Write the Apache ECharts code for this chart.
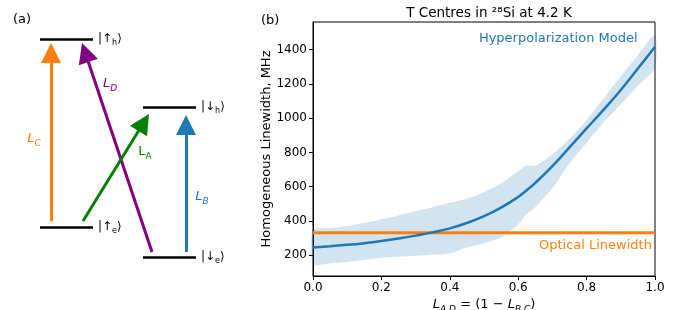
<!DOCTYPE html>
<html>
<head>
<meta charset="utf-8">
<script src="https://cdn.jsdelivr.net/npm/echarts@6/dist/echarts.min.js"></script>
<style>
  html, body { margin: 0; padding: 0; background: #fff; }
  #container { width: 680px; height: 310px; }
</style>
</head>
<body>
<div id="container"></div>
<script type="text/javascript">
// panel (b) data
var fracs = [0, 0.05, 0.1, 0.15, 0.2, 0.25, 0.3, 0.35, 0.4, 0.45, 0.5, 0.55, 0.6, 0.625, 0.65, 0.7, 0.75, 0.8, 0.85, 0.9, 0.95, 1.0];
var meanVals = [245, 252, 260, 270, 282, 297, 314, 333, 356, 388, 428, 478, 540, 579, 622, 720, 830, 940, 1050, 1165, 1290, 1418];
var lowerVals = [146, 152, 160, 172, 184, 190, 196, 202, 210, 245, 270, 305, 380, 440, 480, 590, 735, 857, 975, 1080, 1190, 1295];
var upperVals = [346, 356, 370, 388, 410, 432, 457, 480, 506, 530, 568, 618, 690, 725, 722, 790, 880, 990, 1115, 1245, 1368, 1487];
var opticalLinewidth = 330;
var yTicks = [200, 400, 600, 800, 1000, 1200, 1400];

// panel (a): energy level diagram (schematic units)
var levels = [
    { x0: 40, x1: 93, y: 39, sym: '↑', sub: 'h' },
    { x0: 143, x1: 196, y: 107, sym: '↓', sub: 'h' },
    { x0: 40, x1: 93, y: 227, sym: '↑', sub: 'e' },
    { x0: 143, x1: 196, y: 257, sym: '↓', sub: 'e' }
];
var arrows = [
    { name: 'C', from: [51, 221], to: [51, 43], color: '#ff7f0e', label: [34, 139], italic: true },
    { name: 'D', from: [152, 252], to: [82, 43], color: '#800080', label: [110, 84], italic: true },
    { name: 'A', from: [83, 221], to: [149, 114], color: '#008000', label: [145, 152], italic: false },
    { name: 'B', from: [186, 252], to: [186, 115], color: '#1f77b4', label: [202, 197], italic: true }
];
var headLen = 20;

var FONT = 'DejaVu Sans';

var dom = document.getElementById('container');
var myChart = echarts.init(dom, null, { renderer: 'canvas' });

var bandData = [], meanData = [];
for (let i = 0; i < fracs.length; i++) {
    bandData.push([fracs[i], lowerVals[i], upperVals[i]]);
    meanData.push([fracs[i], meanVals[i]]);
}

var levelLines = levels.map(function (l) {
    return { coords: [[l.x0, l.y], [l.x1, l.y]] };
});
var ketPoints = levels.map(function (l) {
    return {
        value: [l.x1, l.y],
        label: { formatter: '{n||' + l.sym + '}{s|' + l.sub + '}{n|\u27e9}' }
    };
});
// the head symbol is centred on the line end, so stop the line half a head short of the tip
function headCentre(a) {
    var dx = a.to[0] - a.from[0], dy = a.to[1] - a.from[1];
    var len = Math.sqrt(dx * dx + dy * dy);
    return [a.to[0] - dx / len * headLen / 2, a.to[1] - dy / len * headLen / 2];
}
var arrowSeries = arrows.map(function (a) {
    return {
        type: 'lines',
        coordinateSystem: 'cartesian2d',
        xAxisIndex: 0,
        yAxisIndex: 0,
        symbol: ['none', 'triangle'],
        symbolSize: [19, headLen],
        lineStyle: { color: a.color, width: 3, opacity: 1 },
        data: [{ coords: [a.from, headCentre(a)] }],
        silent: true
    };
});
var arrowLabels = arrows.map(function (a) {
    var st = a.italic ? 'italic' : 'normal';
    return {
        value: a.label,
        label: {
            formatter: '{l|L}{s|' + a.name + '}',
            rich: {
                l: { fontFamily: FONT, fontSize: 13, fontStyle: st, color: a.color, lineHeight: 18 },
                s: { fontFamily: FONT, fontSize: 9, fontStyle: st, color: a.color, lineHeight: 9, verticalAlign: 'bottom' }
            }
        }
    };
});

var option = {
    animation: false,
    textStyle: { fontFamily: FONT },
    title: [
        { text: '(a)', left: 8, top: 8, textStyle: { fontFamily: FONT, fontSize: 13, fontWeight: 'normal', color: '#000' } },
        { text: '(b)', left: 256, top: 9, textStyle: { fontFamily: FONT, fontSize: 13, fontWeight: 'normal', color: '#000' } },
        { text: 'T Centres in \u00b2\u2078Si at 4.2 K', left: 484, textAlign: 'center', top: 1, textStyle: { fontFamily: FONT, fontSize: 13.5, fontWeight: 'normal', color: '#000' } }
    ],
    grid: [
        { left: 0, top: 0, width: 240, height: 310, show: false, outerBoundsMode: 'none' },
        { left: 313, top: 22, width: 342, height: 254, show: true, borderColor: '#000', borderWidth: 1, backgroundColor: 'transparent', outerBoundsMode: 'none' }
    ],
    xAxis: [
        { gridIndex: 0, type: 'value', min: 0, max: 240, show: false },
        {
            gridIndex: 1, type: 'value', min: 0, max: 1, interval: 0.2,
            name: '{i|L}{si|A,D}{n| = (1 \u2212 }{i|L}{si|B,C}{n|)}',
            nameLocation: 'middle', nameGap: 20, nameMoveOverlap: false,
            nameTextStyle: {
                rich: {
                    i: { fontFamily: FONT, fontSize: 13, fontStyle: 'italic', color: '#000', lineHeight: 18 },
                    si: { fontFamily: FONT, fontSize: 9, fontStyle: 'italic', color: '#000', lineHeight: 9, verticalAlign: 'bottom' },
                    n: { fontFamily: FONT, fontSize: 13, color: '#000', lineHeight: 18 }
                }
            },
            axisLine: { show: true, lineStyle: { color: '#000', width: 1 } },
            axisTick: { show: true, length: 4, lineStyle: { color: '#000' } },
            axisLabel: { color: '#000', fontSize: 12, margin: 6, formatter: function (v) { return v.toFixed(1); } },
            splitLine: { show: false }
        }
    ],
    yAxis: [
        { gridIndex: 0, type: 'value', min: 0, max: 310, inverse: true, show: false },
        {
            gridIndex: 1, type: 'value', min: 78, max: 1562,
            name: 'Homogeneous Linewidth, MHz',
            nameLocation: 'middle', nameGap: 40, nameMoveOverlap: false,
            nameTextStyle: { fontFamily: FONT, fontSize: 13, color: '#000' },
            axisLine: { show: true, lineStyle: { color: '#000', width: 1 } },
            axisTick: { show: true, length: 4, lineStyle: { color: '#000' }, customValues: yTicks },
            axisLabel: { color: '#000', fontSize: 12, margin: 6, customValues: yTicks, formatter: function (v) { return String(v); } },
            splitLine: { show: false }
        }
    ],
    series: [
        {
            type: 'lines',
            coordinateSystem: 'cartesian2d',
            xAxisIndex: 0, yAxisIndex: 0,
            lineStyle: { color: '#000', width: 2.5, opacity: 1 },
            data: levelLines,
            silent: true
        }
    ].concat(arrowSeries).concat([
        {
            type: 'scatter',
            xAxisIndex: 0, yAxisIndex: 0,
            symbolSize: 0,
            itemStyle: { opacity: 1 },
            data: ketPoints,
            label: {
                show: true, position: 'right', distance: 5,
                rich: {
                    n: { fontFamily: FONT, fontSize: 12, color: '#000', lineHeight: 16 },
                    s: { fontFamily: FONT, fontSize: 8, color: '#000', lineHeight: 8, verticalAlign: 'bottom' }
                }
            },
            silent: true
        },
        {
            type: 'scatter',
            xAxisIndex: 0, yAxisIndex: 0,
            symbolSize: 0,
            itemStyle: { opacity: 1 },
            data: arrowLabels,
            label: { show: true, position: 'inside' },
            silent: true
        },
        {
            name: 'band',
            type: 'custom',
            xAxisIndex: 1, yAxisIndex: 1,
            encode: { x: 0, y: [1, 2] },
            data: bandData,
            silent: true,
            renderItem: function (params, api) {
                if (params.dataIndexInside !== 0) return;
                var n = params.dataInsideLength;
                var pts = [];
                for (let i = 0; i < n; i++) pts.push(api.coord([api.value(0, i), api.value(2, i)]));
                for (let i = n - 1; i >= 0; i--) pts.push(api.coord([api.value(0, i), api.value(1, i)]));
                return {
                    type: 'polygon',
                    shape: { points: pts, smooth: 0.25 },
                    style: { fill: 'rgba(31,119,180,0.2)' }
                };
            }
        },
        {
            name: 'Optical Linewidth',
            type: 'line',
            xAxisIndex: 1, yAxisIndex: 1,
            symbol: 'none',
            lineStyle: { color: '#ff7f0e', width: 3 },
            data: [[0, opticalLinewidth], [1, opticalLinewidth]],
            silent: true
        },
        {
            name: 'Hyperpolarization Model',
            type: 'line',
            xAxisIndex: 1, yAxisIndex: 1,
            symbol: 'none',
            smooth: true,
            lineStyle: { color: '#1f77b4', width: 2.5 },
            data: meanData,
            silent: true
        },
        {
            type: 'scatter',
            xAxisIndex: 1, yAxisIndex: 1,
            symbolSize: 0,
            itemStyle: { opacity: 1 },
            data: [
                { value: [0.949, 1464], label: { formatter: 'Hyperpolarization Model', color: '#1f77b4' } },
                { value: [0.991, 253], label: { formatter: 'Optical Linewidth', color: '#ff7f0e' } }
            ],
            label: { show: true, position: 'left', distance: 0, fontFamily: FONT, fontSize: 13 },
            silent: true
        }
    ])
};

myChart.setOption(option);
window.addEventListener('resize', myChart.resize);
</script>
</body>
</html>
